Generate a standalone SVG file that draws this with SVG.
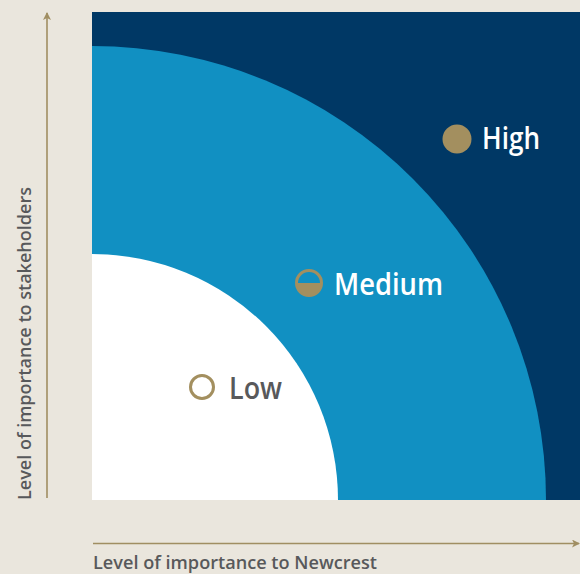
<svg xmlns="http://www.w3.org/2000/svg" width="580" height="574" viewBox="0 0 580 574">
<defs>
<style>
.axis{stroke:#a08e62;stroke-width:1.6;fill:none}
.ax-label{font-family:"Open Sans",Lato,sans-serif;font-size:18px;font-weight:600;fill:#58595b}
.lvl{font-family:"Open Sans",Lato,sans-serif;font-size:31px;font-weight:600}
.gold{fill:#a38f5f}
</style>
<marker id="arr" viewBox="0 0 8 8" refX="7" refY="4" markerWidth="8" markerHeight="8" markerUnits="userSpaceOnUse" orient="auto">
<path d="M0,0 L8,4 L0,8 L2,4 Z" fill="#a08e62"/>
</marker>
</defs>
<rect width="580" height="574" fill="#eae6dd"/>
<g id="zone-high"><rect x="92" y="12" width="488" height="488" fill="#003865"/></g>
<g id="zone-medium"><path d="M92,500 L92,46 A454,454 0 0 1 546,500 Z" fill="#1190c2"/></g>
<g id="zone-low"><path d="M92,500 L92,254 A246,246 0 0 1 338,500 Z" fill="#ffffff"/></g>
<g id="connectors">
<line class="axis" x1="47" y1="498" x2="47" y2="13" marker-end="url(#arr)"/>
<line class="axis" x1="93" y1="543.5" x2="579" y2="543.5" marker-end="url(#arr)"/>
</g>
<g id="label-high">
<circle class="gold" cx="457" cy="139" r="14.5"/>
<text class="lvl" x="482" y="149" fill="#ffffff" textLength="58" lengthAdjust="spacingAndGlyphs">High</text>
</g>
<g id="label-medium">
<circle cx="309" cy="283" r="12.5" fill="none" stroke="#a38f5f" stroke-width="3"/>
<path class="gold" d="M296.5,283 A12.5,12.5 0 0 0 321.5,283 Z"/>
<text class="lvl" x="334" y="295" fill="#ffffff" textLength="109" lengthAdjust="spacingAndGlyphs">Medium</text>
</g>
<g id="label-low">
<circle cx="202" cy="387" r="11.5" fill="none" stroke="#a38f5f" stroke-width="3"/>
<text class="lvl" x="229" y="399" fill="#58595b" textLength="53" lengthAdjust="spacingAndGlyphs">Low</text>
</g>
<g id="axis-y-label"><text class="ax-label" transform="translate(31,500) rotate(-90)" x="0" y="0" textLength="313" lengthAdjust="spacingAndGlyphs">Level of importance to stakeholders</text></g>
<g id="axis-x-label"><text class="ax-label" x="93" y="569" textLength="284" lengthAdjust="spacingAndGlyphs">Level of importance to Newcrest</text></g>
</svg>
